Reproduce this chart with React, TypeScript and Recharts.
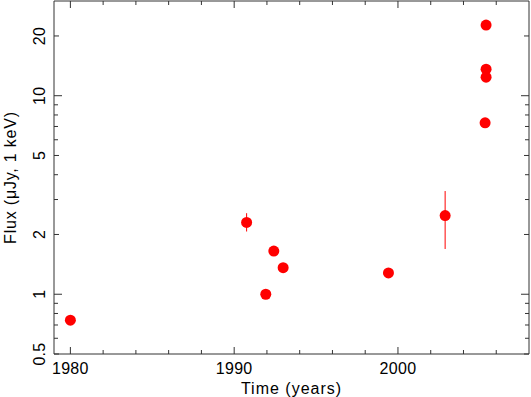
import React from 'react';
import { ScatterChart, Scatter, XAxis, YAxis, ErrorBar } from 'recharts';

const years = [1980.0, 1990.76, 1991.93, 1992.42, 1992.99, 1999.42, 2002.88, 2005.38, 2005.38, 2005.38, 2005.32];
const flux = [0.74, 2.3, 1.0, 1.65, 1.36, 1.28, 2.49, 22.7, 13.6, 12.4, 7.3];
const errLow = [0, 0.23, 0, 0, 0, 0, 0.8, 0, 0, 0, 0];
const errHigh = [0, 0.26, 0, 0, 0, 0, 0.82, 0, 0, 0, 0];

const xTicks = [1980, 1982, 1984, 1986, 1988, 1990, 1992, 1994, 1996, 1998, 2000, 2002, 2004, 2006];
const yTicks = [0.5, 0.6, 0.7, 0.8, 0.9, 1, 2, 3, 4, 5, 6, 7, 8, 9, 10, 20];
const yLabels = [0.5, 1, 2, 5, 10, 20];

const data = years.map((t, i) => ({ t, flux: flux[i], err: [errLow[i], errHigh[i]] }));

const AXIS = '#333';
const RED = '#ff0000';
const FONT = '"Liberation Sans", Arial, Helvetica, sans-serif';

const BottomTick = (p: any) => {
  const { x, y, payload } = p;
  const major = payload.value % 10 === 0;
  return (
    <g>
      <line x1={x} y1={y} x2={x} y2={y - (major ? 7 : 4)} stroke={AXIS} />
      {major && (
        <text x={x} y={y + 19.5} textAnchor="middle" fontSize={16} fontFamily={FONT} letterSpacing={0.3} fill="#000">
          {payload.value}
        </text>
      )}
    </g>
  );
};

const TopTick = (p: any) => {
  const { x, y, payload } = p;
  const major = payload.value % 10 === 0;
  return <line x1={x} y1={y} x2={x} y2={y + (major ? 7 : 4)} stroke={AXIS} />;
};

const LeftTick = (p: any) => {
  const { x, y, payload } = p;
  const v = payload.value;
  const len = v === 1 || v === 10 ? 8 : yLabels.includes(v) ? 5 : 4;
  return (
    <g>
      <line x1={x} y1={y} x2={x + len} y2={y} stroke={AXIS} />
      {yLabels.includes(v) && (
        <text x={x - 9} y={y} textAnchor="middle" fontSize={16} fontFamily={FONT} letterSpacing={0.3} fill="#000"
          transform={`rotate(-90, ${x - 9}, ${y})`}>
          {v}
        </text>
      )}
    </g>
  );
};

const RightTick = (p: any) => {
  const { x, y, payload } = p;
  const v = payload.value;
  const len = v === 1 || v === 10 ? 8 : yLabels.includes(v) ? 5 : 4;
  return <line x1={x} y1={y} x2={x - len} y2={y} stroke={AXIS} />;
};

const YLabel = (p: any) => {
  const vb = p.viewBox || {};
  const x = 16;
  const y = vb.y + vb.height / 2;
  return (
    <text x={x} y={y} textAnchor="middle" fontSize={16} fontFamily={FONT} letterSpacing={0.8} fill="#000"
      transform={`rotate(-90, ${x}, ${y})`}>
      Flux (μJy, 1 keV)
    </text>
  );
};

const Dot = (p: any) => <circle cx={p.cx} cy={p.cy} r={5.5} fill={RED} />;
const NoDot = () => <g />;

export default function App() {
  return (
    <div style={{ position: 'absolute', left: 0, top: 0, background: '#fff' }}>
      <ScatterChart width={531} height={397} margin={{ top: 0, right: 1, bottom: 0, left: 0 }}>
        <XAxis xAxisId="b" dataKey="t" type="number" domain={[1979, 2008]} ticks={xTicks} interval={0}
          orientation="bottom" height={43} axisLine={{ stroke: AXIS }} tickLine={false} tickSize={0} tickMargin={0}
          tick={<BottomTick />} allowDataOverflow
          label={{ value: 'Time (years)', position: 'insideBottom', offset: 3.5, fontSize: 16, fontFamily: FONT, letterSpacing: 1, fill: '#000' }} />
        <XAxis xAxisId="t" dataKey="t" type="number" domain={[1979, 2008]} ticks={xTicks} interval={0}
          orientation="top" height={1} axisLine={{ stroke: AXIS }} tickLine={false} tickSize={0} tickMargin={0}
          tick={<TopTick />} allowDataOverflow />
        <YAxis yAxisId="l" dataKey="flux" type="number" scale="log" domain={[0.5, 30]} ticks={yTicks} interval={0}
          orientation="left" width={54} axisLine={{ stroke: AXIS }} tickLine={false} tickSize={0} tickMargin={0}
          tick={<LeftTick />} allowDataOverflow label={<YLabel />} />
        <YAxis yAxisId="r" dataKey="flux" type="number" scale="log" domain={[0.5, 30]} ticks={yTicks} interval={0}
          orientation="right" width={1} axisLine={{ stroke: AXIS }} tickLine={false} tickSize={0} tickMargin={0}
          tick={<RightTick />} allowDataOverflow />
        <Scatter data={data} xAxisId="t" yAxisId="r" dataKey="flux" shape={<NoDot />} isAnimationActive={false} />
        <Scatter data={data} xAxisId="b" yAxisId="l" dataKey="flux" shape={<Dot />} isAnimationActive={false}>
          <ErrorBar dataKey="err" direction="y" width={0} stroke={RED} strokeWidth={1} isAnimationActive={false} />
        </Scatter>
      </ScatterChart>
    </div>
  );
}
